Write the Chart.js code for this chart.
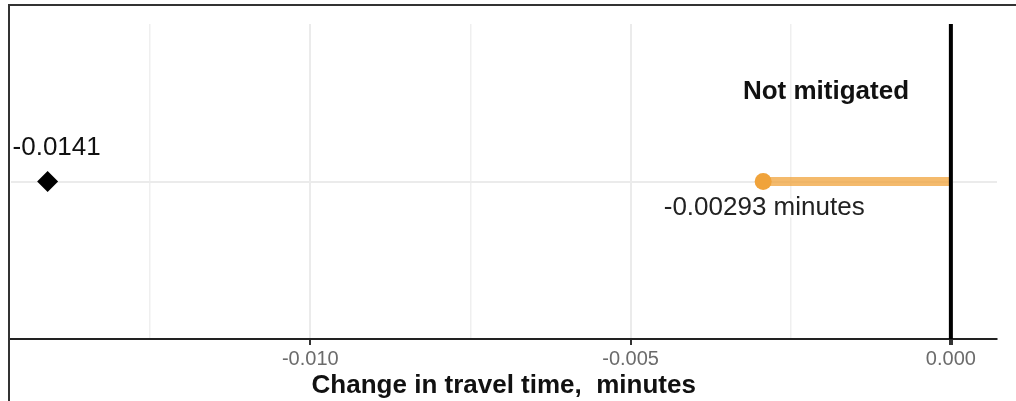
<!DOCTYPE html>
<html>
<head>
<meta charset="utf-8">
<script src="https://cdn.jsdelivr.net/npm/chart.js@4"></script>
<style>
  html, body { margin: 0; padding: 0; background: #fff; }
  canvas { display: block; }
</style>
</head>
<body>
<canvas id="chart" width="1016" height="401"></canvas>
<script>
// data
const category = 'Not mitigated';
const mitigatedValue = [-0.00293];      // orange lollipop end
const referenceValue = [-0.0141];       // black diamond
const zeroLine = [0];
const gridValues = [-0.0125, -0.01, -0.0075, -0.005, -0.0025, 0];
const tickLabels = { '-0.01': '-0.010', '-0.005': '-0.005', '0': '0.000' };
const axisRange = [-0.01468, 0.00072];
const axisTitle = 'Change in travel time,  minutes';

const ROW = 0.5; // single category row, middle of the panel

const isLabeled = v => tickLabels[String(+v.toFixed(4))] !== undefined;

// text labels + outer frame
const annotate = {
  id: 'annotate',
  beforeDraw(chart) {
    const ctx = chart.ctx;
    ctx.save();
    ctx.strokeStyle = '#333';
    ctx.lineWidth = 2;
    ctx.beginPath();
    ctx.moveTo(9, 401);
    ctx.lineTo(9, 5);
    ctx.lineTo(1016, 5);
    ctx.stroke();
    ctx.restore();
  },
  afterDatasetsDraw(chart) {
    const { ctx, scales: { x, y } } = chart;
    ctx.save();
    ctx.textAlign = 'center';
    ctx.textBaseline = 'middle';

    // reference value above the diamond
    ctx.font = '26px "Liberation Sans", Arial, sans-serif';
    ctx.fillStyle = '#111';
    ctx.fillText(String(referenceValue[0]), x.getPixelForValue(referenceValue[0]) + 9, y.getPixelForValue(ROW) - 34);

    // mitigated value below the point, with white halo
    const t = mitigatedValue[0] + ' minutes';
    const px = x.getPixelForValue(mitigatedValue[0]) + 1;
    const py = y.getPixelForValue(ROW) + 26;
    ctx.lineWidth = 5;
    ctx.strokeStyle = '#fff';
    ctx.lineJoin = 'round';
    ctx.strokeText(t, px, py);
    ctx.fillStyle = '#222';
    ctx.fillText(t, px, py);

    // category label
    ctx.font = 'bold 26px "Liberation Sans", Arial, sans-serif';
    ctx.fillStyle = '#111';
    ctx.fillText(category, x.getPixelForValue(-0.00195), y.getPixelForValue(0.785));
    ctx.restore();
  }
};

new Chart(document.getElementById('chart'), {
  type: 'scatter',
  data: {
    datasets: [
      {
        type: 'line',
        data: [{ x: zeroLine[0], y: 0 }, { x: zeroLine[0], y: 1 }],
        borderColor: '#000',
        borderWidth: 4,
        pointRadius: 0
      },
      {
        data: [{ x: mitigatedValue[0], y: ROW }],
        backgroundColor: '#F0A33B',
        borderWidth: 0,
        pointRadius: 8.5
      },
      {
        type: 'line',
        data: [{ x: mitigatedValue[0], y: ROW }, { x: zeroLine[0], y: ROW }],
        borderColor: 'rgba(240,163,59,0.75)',
        borderWidth: 9,
        borderCapStyle: 'butt',
        pointRadius: 0
      },
      {
        data: [{ x: referenceValue[0], y: ROW }],
        pointStyle: 'rectRot',
        backgroundColor: '#000',
        borderWidth: 0,
        pointRadius: 10.5
      }
    ]
  },
  options: {
    responsive: false,
    animation: false,
    devicePixelRatio: 1,
    layout: { padding: { left: 10, right: 19, top: 24, bottom: 0 } },
    plugins: { legend: { display: false }, tooltip: { enabled: false } },
    scales: {
      x: {
        type: 'linear',
        min: axisRange[0],
        max: axisRange[1],
        afterBuildTicks: s => { s.ticks = gridValues.map(v => ({ value: v })); },
        afterFit: s => { s.height = 62; },
        grid: {
          color: c => c.tick && isLabeled(c.tick.value) ? '#EBEBEB' : '#EFEFEF',
          tickColor: c => c.tick && isLabeled(c.tick.value) ? '#333' : 'transparent',
          lineWidth: c => c.tick && c.tick.value === 0 ? 4 : (c.tick && isLabeled(c.tick.value) ? 2 : 1.5),
          tickLength: 6
        },
        border: { color: '#222', width: 2 },
        ticks: {
          autoSkip: false,
          maxRotation: 0,
          padding: 2,
          color: '#6b6b6b',
          font: { family: '"Liberation Sans", Arial, sans-serif', size: 20 },
          callback: v => tickLabels[String(+Number(v).toFixed(4))] || ''
        },
        title: {
          display: true,
          text: axisTitle,
          color: '#111',
          padding: { top: 0, bottom: 0 },
          font: { family: '"Liberation Sans", Arial, sans-serif', size: 26, weight: 'bold' }
        }
      },
      y: {
        type: 'linear',
        min: 0,
        max: 1,
        afterBuildTicks: s => { s.ticks = [{ value: ROW }]; },
        afterFit: s => { s.width = 0; },
        grid: { color: '#EBEBEB', lineWidth: 2, drawTicks: false },
        border: { display: false },
        ticks: { display: false }
      }
    }
  },
  plugins: [annotate]
});
</script>
</body>
</html>
